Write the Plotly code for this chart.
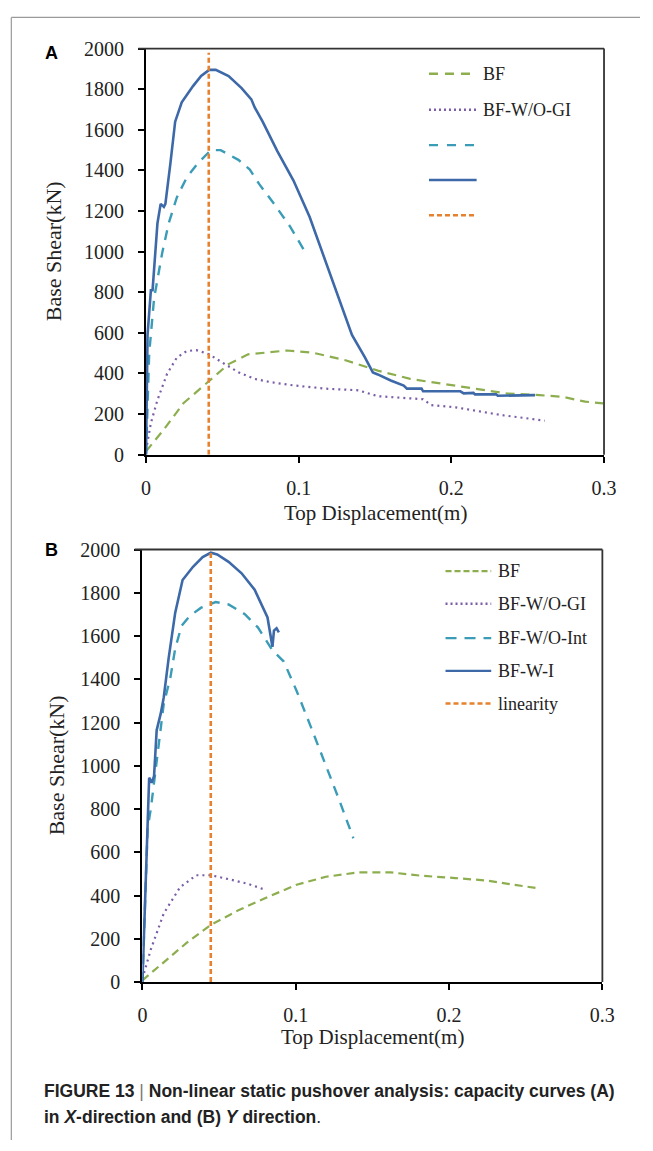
import plotly.graph_objects as go

W, H = 653, 1151

# ---------------- Panel A (X-direction) data ----------------
a_bf_x = [0, 0.0117, 0.0245, 0.0414, 0.0541, 0.0669, 0.0817, 0.0924, 0.1094, 0.1306, 0.1518,
          0.1731, 0.1943, 0.2155, 0.2367, 0.2580, 0.2728, 0.2877, 0.2994]
a_bf_y = [16, 124, 253, 365, 446, 494, 507, 513, 502, 465, 414, 373, 349, 325, 301, 293, 285, 261, 253]

a_gi_x = [0, 0.0032, 0.0075, 0.0138, 0.0202, 0.0266, 0.0329, 0.0414, 0.0499, 0.0605, 0.0712,
          0.0817, 0.0966, 0.1178, 0.139, 0.1518, 0.1815, 0.1868, 0.2028, 0.224, 0.2346, 0.2516, 0.2612]
a_gi_y = [20, 156, 269, 398, 478, 510, 515, 494, 454, 406, 373, 357, 341, 325, 317, 288, 273, 244,
          233, 208, 193, 177, 167]

a_int_x = [0, 0.0021, 0.0053, 0.0083, 0.0106, 0.0148, 0.0202, 0.0266, 0.034, 0.0425, 0.0489,
           0.0605, 0.068, 0.0743, 0.0839, 0.0945, 0.104]
a_int_y = [0, 500, 770, 900, 993, 1138, 1267, 1364, 1436, 1500, 1500, 1452, 1404, 1331, 1235, 1122, 1001]

a_wi_x = [0, 0.001, 0.0032, 0.0043, 0.0075, 0.0096, 0.0117, 0.0127, 0.0159, 0.0191, 0.0234, 0.0308,
          0.0361, 0.0414, 0.0457, 0.0541, 0.0626, 0.069, 0.0712, 0.0764, 0.086, 0.0966, 0.1072, 0.1179,
          0.1242, 0.1349, 0.1433, 0.1486, 0.1518, 0.1603, 0.1688, 0.1709, 0.1805, 0.1815, 0.2059, 0.2081,
          0.2145, 0.2155, 0.2293, 0.2304, 0.2548]
a_wi_y = [0, 590, 810, 810, 1140, 1235, 1220, 1235, 1430, 1640, 1735, 1815, 1865, 1895, 1895, 1865,
          1805, 1750, 1710, 1640, 1495, 1350, 1170, 950, 815, 590, 480, 405, 395, 365, 340, 325, 325,
          312, 312, 302, 304, 297, 297, 290, 293]

a_lin_x = [0.0411, 0.0411]
a_lin_y = [0, 1980]

# ---------------- Panel B (Y-direction) data ----------------
b_bf_x = [0, 0.0139, 0.0288, 0.0446, 0.0626, 0.0816, 0.1006, 0.1197, 0.1407, 0.1619, 0.183,
          0.2041, 0.2253, 0.2422, 0.2570]
b_bf_y = [8, 91, 181, 264, 332, 393, 450, 487, 507, 507, 491, 481, 469, 450, 435]

b_gi_x = [0, 0.0055, 0.0139, 0.0245, 0.0351, 0.0446, 0.0562, 0.0689, 0.0805]
b_gi_y = [15, 151, 317, 438, 494, 494, 476, 454, 426]

b_int_x = [0, 0.0034, 0.0055, 0.0076, 0.0108, 0.0139, 0.0182, 0.0214, 0.0256, 0.0309, 0.0383,
           0.0478, 0.0562, 0.0668, 0.0753, 0.0848, 0.0922, 0.1006, 0.1091, 0.1175, 0.1281, 0.1376]
b_int_y = [0, 711, 801, 922, 1104, 1285, 1406, 1542, 1648, 1693, 1731, 1757, 1746, 1701, 1640,
           1534, 1482, 1346, 1194, 1043, 847, 665]

b_wi_x = [0, 0.0034, 0.0044, 0.006, 0.0076, 0.0093, 0.0119, 0.0139, 0.0171, 0.0214, 0.0262, 0.033,
          0.0393, 0.0446, 0.0488, 0.0562, 0.0647, 0.0732, 0.0816, 0.0848, 0.0858, 0.0875, 0.089]
b_wi_y = [0, 726, 945, 922, 952, 1164, 1240, 1315, 1497, 1708, 1859, 1920, 1965, 1985, 1977, 1943,
          1890, 1814, 1686, 1550, 1625, 1636, 1617]

b_lin_x = [0.0446, 0.0446]
b_lin_y = [0, 2000]

x_ticks = [0, 0.1, 0.2, 0.3]
x_ticktext = ["0", "0.1", "0.2", "0.3"]
y_ticks = list(range(0, 2001, 200))

names = ["BF", "BF-W/O-GI", "BF-W/O-Int", "BF-W-I", "linearity"]
legend_a_text = ["BF", "BF-W/O-GI", "", "", ""]
legend_b_text = ["BF", "BF-W/O-GI", "BF-W/O-Int", "BF-W-I", "linearity"]

GREEN = "#8DAE4E"
PURPLE = "#7A5DA6"
TEAL = "#3A9CB6"
BLUE = "#3D69A9"
ORANGE = "#E6812F"

SERIF = "Liberation Serif"


def px(x):
    return x / W


def py(y):
    return 1 - y / H


fig = go.Figure()

styles = [
    dict(color=GREEN, width=2.2, dash="9px,6px"),
    dict(color=PURPLE, width=2.2, dash="2px,4px"),
    dict(color=TEAL, width=2.4, dash="10px,8px"),
    dict(color=BLUE, width=2.6, dash="solid"),
    dict(color=ORANGE, width=2.6, dash="5px,3px"),
]
styles_b = [
    dict(color=GREEN, width=2.2, dash="8px,5px"),
    dict(color=PURPLE, width=2.2, dash="2px,4px"),
    dict(color=TEAL, width=2.4, dash="10px,8px"),
    dict(color=BLUE, width=2.6, dash="solid"),
    dict(color=ORANGE, width=2.6, dash="5px,3px"),
]

a_series = [(a_bf_x, a_bf_y), (a_gi_x, a_gi_y), (a_int_x, a_int_y), (a_wi_x, a_wi_y), (a_lin_x, a_lin_y)]
b_series = [(b_bf_x, b_bf_y), (b_gi_x, b_gi_y), (b_int_x, b_int_y), (b_wi_x, b_wi_y), (b_lin_x, b_lin_y)]

for (xs, ys), nm, st in zip(a_series, names, styles):
    fig.add_trace(go.Scatter(x=xs, y=ys, mode="lines", name=nm, line=st,
                             showlegend=False, xaxis="x", yaxis="y"))
for (xs, ys), nm, st in zip(b_series, names, styles_b):
    fig.add_trace(go.Scatter(x=xs, y=ys, mode="lines", name=nm, line=st,
                             showlegend=False, xaxis="x2", yaxis="y2"))

axis_common = dict(
    showline=True, linecolor="black", linewidth=2.2, ticks="outside", ticklen=6,
    tickcolor="black", tickwidth=1.5, showgrid=False, zeroline=False,
    tickfont=dict(family=SERIF, size=20, color="#222"),
)

# panel geometry (pixels)
A = dict(x0=145, x1=616, y0=38.3, y1=452.3)
B = dict(x0=141.3, x1=614.3, y0=549, y1=990)

fig.update_layout(
    width=W, height=H, margin=dict(l=0, r=0, t=0, b=0),
    paper_bgcolor="white", plot_bgcolor="white",
    xaxis=dict(domain=[px(A["x0"]), px(A["x1"])], range=[0, 0.3], tickvals=x_ticks,
               ticktext=x_ticktext, anchor="y", ticklabelstandoff=8, **axis_common),
    yaxis=dict(domain=[py(A["y1"]), py(A["y0"])], range=[0, 2000], tickvals=y_ticks,
               anchor="x", ticklabelstandoff=10, **axis_common),
    xaxis2=dict(domain=[px(B["x0"]), px(B["x1"])], range=[0, 0.3], tickvals=x_ticks,
                ticktext=x_ticktext, anchor="y2", ticklabelstandoff=8, **axis_common),
    yaxis2=dict(domain=[py(B["y1"]), py(B["y0"])], range=[0, 2000], tickvals=y_ticks,
                anchor="x2", ticklabelstandoff=10, **axis_common),
    showlegend=False,
)

shapes = []
annotations = []

# frame top/right lines
for P in (A, B):
    shapes.append(dict(type="line", xref="paper", yref="paper", x0=px(P["x0"] - 8), x1=px(P["x1"]),
                       y0=py(P["y0"]), y1=py(P["y0"]), line=dict(color="#333", width=1.8)))
    shapes.append(dict(type="line", xref="paper", yref="paper", x0=px(P["x1"]), x1=px(P["x1"]),
                       y0=py(P["y0"]), y1=py(P["y1"]), line=dict(color="#333", width=1.8)))

# page border (gray)
shapes.append(dict(type="line", xref="paper", yref="paper", x0=px(6.5), x1=1, y0=py(6.5), y1=py(6.5),
                   line=dict(color="#9a9a9a", width=1.2)))
shapes.append(dict(type="line", xref="paper", yref="paper", x0=px(6.5), x1=px(6.5), y0=py(6.5), y1=0,
                   line=dict(color="#9a9a9a", width=1.2)))

# legends (manual)
leg_a_y = [64, 100.7, 136.7, 172.3, 208.3]
leg_b_y = [571, 604.3, 639.3, 672.7, 706]
leg_a_dash = ["9px,7px", "2px,3px", "9px,9px", "solid", "5px,3px"]
leg_b_dash = ["6px,3px", "2px,3px", "11px,8px", "solid", "5px,3px"]
colors = [GREEN, PURPLE, TEAL, BLUE, ORANGE]
for i in range(5):
    shapes.append(dict(type="line", xref="paper", yref="paper", x0=px(436), x1=px(485),
                       y0=py(leg_a_y[i]), y1=py(leg_a_y[i]),
                       line=dict(color=colors[i], width=2.4, dash=leg_a_dash[i])))
    if legend_a_text[i]:
        annotations.append(dict(xref="paper", yref="paper", x=px(489), y=py(leg_a_y[i]),
                                xanchor="left", yanchor="middle", showarrow=False,
                                text=legend_a_text[i], font=dict(family=SERIF, size=18, color="#222")))
    shapes.append(dict(type="line", xref="paper", yref="paper", x0=px(453), x1=px(500),
                       y0=py(leg_b_y[i]), y1=py(leg_b_y[i]),
                       line=dict(color=colors[i], width=2.4, dash=leg_b_dash[i])))
    annotations.append(dict(xref="paper", yref="paper", x=px(505), y=py(leg_b_y[i]),
                            xanchor="left", yanchor="middle", showarrow=False,
                            text=legend_b_text[i], font=dict(family=SERIF, size=18, color="#222")))

# axis titles
for P, xt_y, yt_x in ((A, 512, 50), (B, 1046, 53)):
    annotations.append(dict(xref="paper", yref="paper", x=px((P["x0"] + P["x1"]) / 2), y=py(xt_y),
                            xanchor="center", yanchor="middle", showarrow=False,
                            text="Top Displacement(m)", font=dict(family=SERIF, size=21, color="#222")))
    annotations.append(dict(xref="paper", yref="paper", x=px(yt_x), y=py((P["y0"] + P["y1"]) / 2),
                            xanchor="center", yanchor="middle", showarrow=False, textangle=-90,
                            text="Base Shear(kN)", font=dict(family=SERIF, size=22, color="#222")))

# panel letters
annotations.append(dict(xref="paper", yref="paper", x=px(48), y=py(43), xanchor="center", yanchor="middle",
                        showarrow=False, text="<b>A</b>",
                        font=dict(family="Liberation Sans", size=18, color="black")))
annotations.append(dict(xref="paper", yref="paper", x=px(48), y=py(549), xanchor="center", yanchor="middle",
                        showarrow=False, text="<b>B</b>",
                        font=dict(family="Liberation Sans", size=18, color="black")))

# caption
cap1 = "<b>FIGURE 13</b> <span style='color:#777'>|</span> <b>Non-linear static pushover analysis: capacity curves (A)</b>"
cap2 = "<b>in <i>X</i>-direction and (B) <i>Y</i> direction</b>."
annotations.append(dict(xref="paper", yref="paper", x=px(38), y=py(1101), xanchor="left", yanchor="middle",
                        showarrow=False, text=cap1, align="left",
                        font=dict(family="Liberation Sans", size=17.5, color="#222")))
annotations.append(dict(xref="paper", yref="paper", x=px(38), y=py(1128), xanchor="left", yanchor="middle",
                        showarrow=False, text=cap2, align="left",
                        font=dict(family="Liberation Sans", size=17.5, color="#222")))

fig.update_layout(shapes=shapes, annotations=annotations)

fig.write_html(
    "out.html",
    post_script="document.body.style.margin='0';document.body.style.overflow='hidden';",
)
